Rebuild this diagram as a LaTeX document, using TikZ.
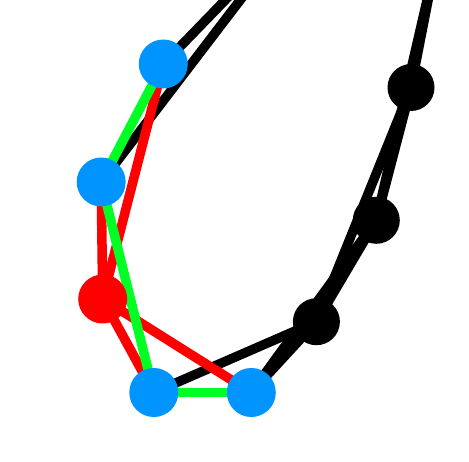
\documentclass[tikz,border=0pt]{standalone}
\begin{document}
\begin{tikzpicture}[x=1pt,y=-1pt,
  edge/.style={line width=9.5pt},
  blk/.style={edge,black},
  rd/.style={edge,red},
  gr/.style={edge,draw={rgb,255:red,0;green,255;blue,34}},
  vtx/.style={circle,minimum size=49pt,inner sep=0pt},
  bluev/.style={vtx,fill={rgb,255:red,0;green,148;blue,255}},
  redv/.style={vtx,fill=red},
  blackv/.style={vtx,fill=black,minimum size=47pt}]
\useasboundingbox[fill=white] (0,0) rectangle (469,462);
\coordinate (X) at (296,-73);
\coordinate (Y) at (434,-30);
\path (163.3,64) coordinate (b1)
      (101.2,182) coordinate (b2)
      (102.7,299) coordinate (r)
      (153.8,392.5) coordinate (b3)
      (251.3,392.5) coordinate (b4)
      (316.4,321.7) coordinate (k1)
      (376.3,220.3) coordinate (k2)
      (411,87.5) coordinate (k3);
% black edges
\draw[blk] (b1) -- (X);
\draw[blk] (b2) -- (X);
\draw[blk] (b3) -- (k1);
\draw[blk] (b4) -- (k1);
\draw[blk] (b4) -- (k2);
\draw[blk] (k1) -- (k2);
\draw[blk] (k1) -- (k3);
\draw[blk] (k2) -- (k3);
\draw[blk] (k2) -- (Y);
\draw[blk] (k3) -- (Y);
% red edges
\draw[rd] (b1) -- (r);
\draw[rd] (b2) -- (r);
\draw[rd] (r) -- (b3);
\draw[rd] (r) -- (b4);
% green edges
\draw[gr] (b1) -- (b2);
\draw[gr] (b2) -- (b3);
\draw[gr] (b3) -- (b4);
% nodes
\node[bluev] (B1) at (b1) {};
\node[bluev] (B2) at (b2) {};
\node[redv] (R) at (r) {};
\node[bluev] (B3) at (b3) {};
\node[bluev] (B4) at (b4) {};
\node[blackv] (K1) at (k1) {};
\node[blackv] (K2) at (k2) {};
\node[blackv] (K3) at (k3) {};
\end{tikzpicture}
\end{document}
